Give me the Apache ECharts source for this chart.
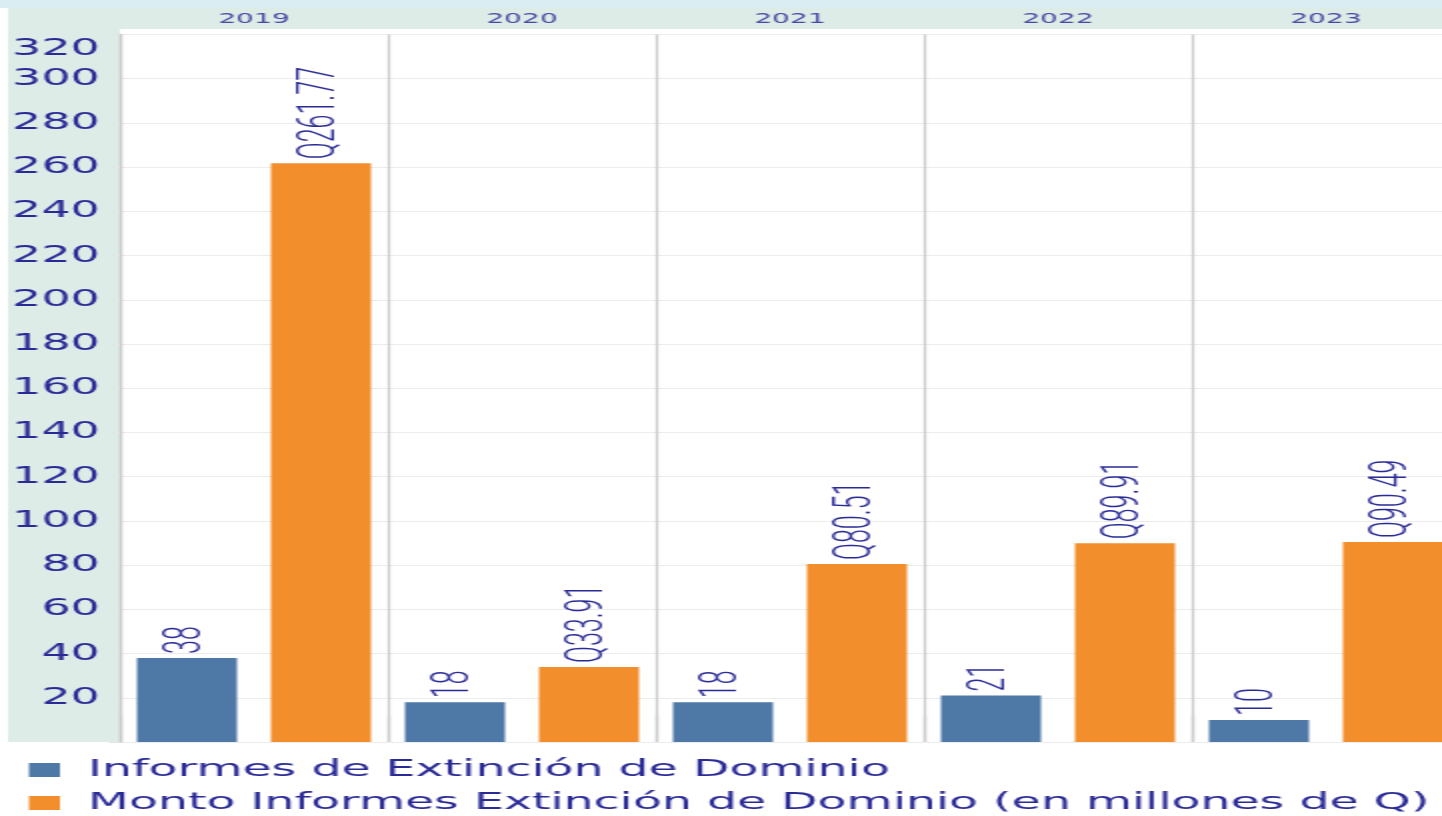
<!DOCTYPE html>
<html>
<head>
<meta charset="utf-8">
<script src="https://cdn.jsdelivr.net/npm/echarts@6/dist/echarts.min.js"></script>
<style>
html, body { margin: 0; padding: 0; background: #fff; overflow: hidden; }
/* the reference picture is stretched sideways, so the chart is drawn half as wide and scaled */
#main { width: 721px; height: 816px; transform: scaleX(2); transform-origin: 0 0; }
</style>
</head>
<body>
<div id="main"></div>
<script>
// datos
var years = ['2019', '2020', '2021', '2022', '2023'];
var informes = [38, 18, 18, 21, 10];
var monto = [261.77, 33.91, 80.51, 89.91, 90.49];
var seriesNames = ['Informes de Extinción de Dominio', 'Monto Informes Extinción de Dominio (en millones de Q)'];
var yMin = 0, yMax = 320, yStep = 20;

var textBlue = '#2a2a96';
var sepColor = '#cbcbcb';
var panelColor = '#deece8';

var barLabel = {
    show: true,
    position: 'top',
    rotate: 90,
    align: 'left',
    verticalAlign: 'middle',
    distance: 4,
    fontFamily: 'Roboto',
    fontWeight: 300,
    fontSize: 25,
    color: textBlue
};

var legendText = { fontFamily: 'DejaVu Sans', fontSize: 23.7, lineHeight: 24, color: textBlue, padding: [0, 0, 0, 9] };

var option = {
    animation: false,
    grid: { left: 60, top: 34.5, width: 670, height: 707.5, outerBoundsMode: 'none', containLabel: false },
    graphic: [
        { type: 'rect', z: -10, shape: { x: 0, y: 0, width: 721, height: 8 }, style: { fill: '#d9edf2' } },
        { type: 'rect', z: -10, shape: { x: 4, y: 8, width: 717, height: 21 }, style: { fill: panelColor } },
        { type: 'rect', z: -10, shape: { x: 4, y: 8, width: 56, height: 734 }, style: { fill: panelColor } }
    ],
    legend: [
        { left: 14.5, top: 758, padding: 0, icon: 'rect', itemWidth: 15.5, itemHeight: 14, data: [seriesNames[0]], textStyle: legendText },
        { left: 14.5, top: 791, padding: 0, icon: 'rect', itemWidth: 15.5, itemHeight: 14, data: [seriesNames[1]], textStyle: legendText }
    ],
    xAxis: {
        type: 'category',
        position: 'top',
        data: years,
        axisLine: { show: false },
        axisTick: { show: true, length: 26.5, lineStyle: { color: sepColor, width: 1.3 } },
        axisLabel: { margin: 8, fontFamily: 'DejaVu Sans', fontSize: 14, color: '#4848a4' },
        splitLine: { show: true, lineStyle: { color: sepColor, width: 1.3 } }
    },
    yAxis: {
        type: 'value',
        min: yMin,
        max: yMax,
        interval: yStep,
        axisLine: { show: true, lineStyle: { color: sepColor, width: 1.3 } },
        axisTick: { show: true, length: 5.5, lineStyle: { color: '#e4e4e4' } },
        axisLabel: {
            margin: 10,
            fontFamily: 'DejaVu Sans',
            fontSize: 23,
            color: textBlue,
            formatter: function (v) {
                if (v === 0) return '';
                if (v === yMax) return '{s|' + v + '}';
                return String(v);
            },
            rich: { s: { padding: [29, 0, 0, 0], fontFamily: 'DejaVu Sans', fontSize: 23, color: textBlue } }
        },
        splitLine: { show: true, lineStyle: { color: '#ececec' } }
    },
    series: [
        {
            name: seriesNames[0],
            type: 'bar',
            data: informes,
            barWidth: 50,
            barGap: '34%',
            itemStyle: { color: '#4e79a7' },
            label: barLabel
        },
        {
            name: seriesNames[1],
            type: 'bar',
            data: monto,
            barWidth: 50,
            barGap: '34%',
            itemStyle: { color: '#f28e2b' },
            label: Object.assign({}, barLabel, {
                formatter: function (p) { return 'Q' + p.value.toFixed(2); }
            })
        }
    ]
};

var chart = echarts.init(document.getElementById('main'));
chart.setOption(option);
</script>
</body>
</html>
